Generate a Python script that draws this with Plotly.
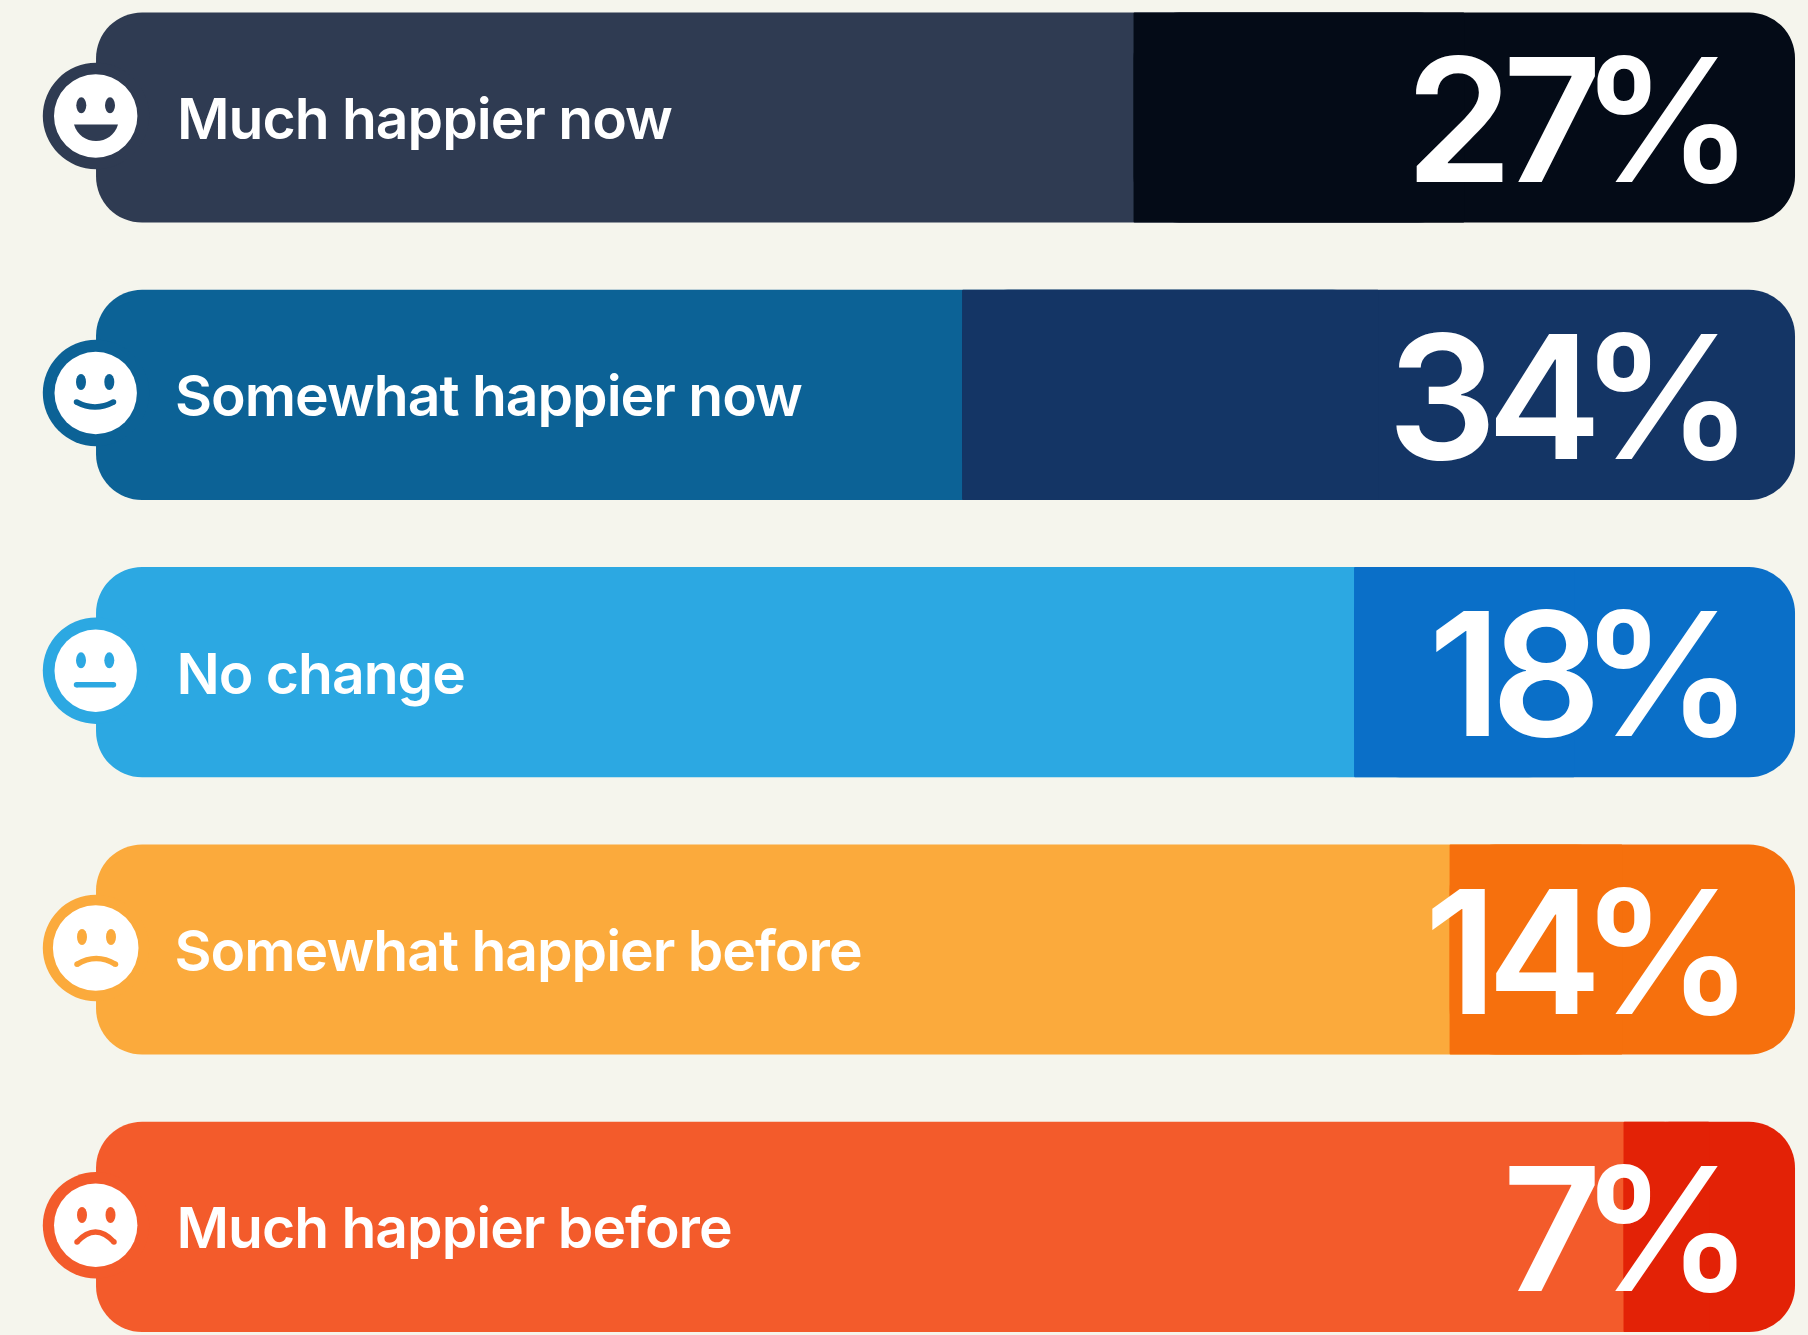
import plotly.graph_objects as go

categories = ["Much happier now", "Somewhat happier now", "No change", "Somewhat happier before", "Much happier before"]
values = [27, 34, 18, 14.1, 7]
value_labels = ["27%", "34%", "18%", "14%", "7%"]
track_total = 69.35
track_colors = ["#2F3B52", "#0C6296", "#2CA8E2", "#FBAA3C", "#F35B2B"]
value_colors = ["#040B17", "#143565", "#0A6FC8", "#F6700D", "#E32206"]
BG = "#F5F5ED"
W, H = 1808, 1335

face_centers = [116, 393, 670.7, 948, 1225.3]
white_r = [41.7, 41.2, 41.2, 42.8, 41.7]
faces = ["grin", "smile", "flat", "sad", "frown"]

LABEL_LS = 1.0      # px tightening per character, category labels
DIGIT_LS = 10       # px tightening between digits
PCT_LS = 21         # px tightening before the percent sign

def X(p): return p / W
def Y(p): return 1 - p / H

y = list(range(5))
fig = go.Figure()
# light track, both ends rounded; its right end is hidden under the value bar
fig.add_bar(y=y, x=[track_total - v / 2 for v in values], base=[v / 2 for v in values], orientation="h",
            marker=dict(color=track_colors, line_width=0), width=0.758, hoverinfo="skip", showlegend=False)
# value bar, rounded on the right
fig.add_bar(y=y, x=[-v for v in values], base=values, orientation="h",
            marker=dict(color=value_colors, line_width=0), width=0.758, hoverinfo="skip", showlegend=False)
# same colour, nearly square, so the split edge stays straight
fig.add_bar(y=y, x=[-v / 2 for v in values], base=values, orientation="h",
            marker=dict(color=value_colors, line_width=0, cornerradius=1), width=0.758,
            hoverinfo="skip", showlegend=False)

shapes = []
def circle(cx, cy, rx, ry, color):
    shapes.append(dict(type="circle", xref="paper", yref="paper", x0=X(cx - rx), x1=X(cx + rx),
                       y0=Y(cy + ry), y1=Y(cy - ry), fillcolor=color, line_width=0, layer="above"))
def path(d_pts, fill=None, stroke=None, w=0):
    s = ""
    for cmd, *pts in d_pts:
        s += cmd + " ".join(f"{X(pts[i]):.5f},{Y(pts[i+1]):.5f}" for i in range(0, len(pts), 2)) + " "
    shapes.append(dict(type="path", xref="paper", yref="paper", path=s.strip(),
                       fillcolor=fill or "rgba(0,0,0,0)",
                       line=dict(color=stroke or "rgba(0,0,0,0)", width=w), layer="above"))
def curve(col, x0, x1, y_end, y_ctrl, w):
    path([("M", x0, y_end), ("Q", (x0 + x1) / 2, y_ctrl, x1, y_end)], stroke=col, w=w)
    circle(x0, y_end, w / 2, w / 2, col)
    circle(x1, y_end, w / 2, w / 2, col)

for i, c in enumerate(face_centers):
    col = track_colors[i]
    circle(96, c, 53.2, 53.2, col)
    circle(95.7, c, white_r[i], white_r[i], "#FFFFFF")
    f = faces[i]
    if f == "grin":
        ex0, ex1, ey = 81.3, 110, c - 10.7
        path([("M", 74, c + 8.5), ("L", 118, c + 8.5), ("C", 115, c + 19, 106, c + 25, 96, c + 25),
              ("C", 86, c + 25, 77, c + 19, 74, c + 8.5), ("Z",)], fill=col)
    elif f == "smile":
        ex0, ex1, ey = 81, 109.3, c - 11
        curve(col, 76.5, 113.5, c + 9, c + 19, 5.5)
    elif f == "flat":
        ex0, ex1, ey = 81, 109.3, c - 10.4
        curve(col, 76.5, 113.5, c + 14, c + 14, 5.4)
    elif f == "sad":
        ex0, ex1, ey = 82, 111, c - 11
        curve(col, 77, 115.5, c + 16.3, c + 4.7, 5.5)
    else:
        ex0, ex1, ey = 82, 110.5, c - 10.3
        curve(col, 77, 114, c + 16.7, c - 3.3, 5.5)
    circle(ex0, ey, 5, 8, col)
    circle(ex1, ey, 5, 8, col)

annotations = []
for i, cat in enumerate(categories):
    label_shift = 174.7 - len(cat) * LABEL_LS / 2 - (2 if cat.startswith("S") else 0)
    n = len(value_labels[i])
    value_shift = -40 + (DIGIT_LS * (n - 2) + PCT_LS) / 2
    annotations.append(dict(x=0, xref="paper", xshift=label_shift, y=i, yref="y", yshift=-1, xanchor="left", yanchor="middle",
                            text=cat, showarrow=False, font=dict(family="Inter", size=57, color="#FFFFFF", weight=600)))
    annotations.append(dict(x=0, xref="x", xshift=value_shift, y=i, yref="y", yshift=-1, xanchor="right", yanchor="middle",
                            text=value_labels[i], showarrow=False, font=dict(family="Inter", size=172, color="#FFFFFF", weight=600)))

fig.update_layout(
    width=W, height=H, margin=dict(l=0, r=0, t=0, b=0), paper_bgcolor=BG, plot_bgcolor=BG,
    barmode="overlay", barcornerradius=46, showlegend=False,
    xaxis=dict(range=[73.27, -0.53], visible=False, fixedrange=True),
    yaxis=dict(range=[4.39, -0.4237], visible=False, fixedrange=True),
    shapes=shapes, annotations=annotations,
)
post = """
document.body.style.margin='0';document.documentElement.style.overflow='hidden';
document.querySelectorAll('.annotation-text').forEach(function(t){
  if(parseFloat(t.style.fontSize)>100){
    var s=t.textContent, d=[];
    for(var i=0;i<s.length;i++){d.push(i==0?0:(s[i]=='%'?-PCT:-DIG));}
    t.setAttribute('dx',d.join(' '));
  } else { t.style.letterSpacing='-LBLpx'; }
});
""".replace("PCT", str(PCT_LS)).replace("DIG", str(DIGIT_LS)).replace("LBL", str(LABEL_LS))
fig.write_html("out.html", post_script=post, config={"displayModeBar": False})
